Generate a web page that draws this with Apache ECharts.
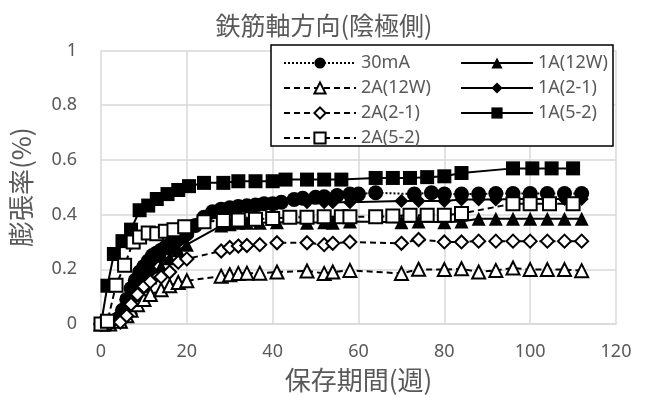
<!DOCTYPE html>
<html>
<head>
<meta charset="utf-8">
<script src="https://cdn.jsdelivr.net/npm/echarts@6/dist/echarts.min.js"></script>
<style>
  html, body { margin: 0; padding: 0; background: #fff; }
  #chart { width: 648px; height: 398px; }
</style>
</head>
<body>
<div id="chart"></div>
<script>
// Expansion ratio (%) along the rebar axis, cathode side, vs. storage period (weeks)

const xTicks = [0, 20, 40, 60, 80, 100, 120];
const yTicks = [0, 0.2, 0.4, 0.6, 0.8, 1];

// 30mA specimen (dense weekly readings)
const weeks30mA = [0, 2, 4, 5, 6, 7, 8, 9, 10, 11, 12, 13, 14, 15, 16, 17, 18, 19, 20, 22, 24, 26, 28, 30, 32, 34, 36, 38, 40, 42, 45, 47, 50, 52, 55, 58, 60, 64, 73, 77, 80, 84, 88, 92, 96, 100, 104, 108, 112];
const v30mA = [0, 0, 0.02, 0.05, 0.09, 0.13, 0.16, 0.19, 0.21, 0.23, 0.25, 0.26, 0.27, 0.28, 0.29, 0.30, 0.31, 0.32, 0.33, 0.36, 0.39, 0.41, 0.42, 0.425, 0.43, 0.432, 0.435, 0.44, 0.44, 0.445, 0.455, 0.46, 0.463, 0.465, 0.47, 0.475, 0.475, 0.48, 0.475, 0.48, 0.475, 0.475, 0.475, 0.477, 0.477, 0.477, 0.477, 0.477, 0.477];

// Reading schedule shared by the 12W and 2-1 specimens
const weeksA = [0, 2, 4.5, 6, 7, 8.5, 10, 11.5, 14, 16, 18, 20, 28, 30, 32, 34, 37, 41, 48, 52, 54, 58, 70, 74, 80, 84, 88, 92, 96, 100, 104, 108, 112];
const v1A12W = [0, 0, 0.01, 0.03, 0.06, 0.10, 0.14, 0.17, 0.21, 0.24, 0.27, 0.29, 0.36, 0.365, 0.37, 0.37, 0.37, 0.372, 0.37, 0.372, 0.37, 0.375, 0.372, 0.375, 0.372, 0.375, 0.385, 0.385, 0.385, 0.385, 0.385, 0.385, 0.385];
const v2A12W = [0, 0, 0.01, 0.03, 0.05, 0.07, 0.09, 0.108, 0.125, 0.14, 0.152, 0.158, 0.175, 0.18, 0.185, 0.186, 0.186, 0.19, 0.194, 0.185, 0.19, 0.196, 0.185, 0.2, 0.199, 0.202, 0.19, 0.196, 0.205, 0.199, 0.199, 0.199, 0.195];
const v1A21 = [0, 0, 0.02, 0.06, 0.10, 0.14, 0.18, 0.20, 0.24, 0.27, 0.30, 0.32, 0.41, 0.42, 0.425, 0.43, 0.435, 0.44, 0.445, 0.445, 0.445, 0.445, 0.45, 0.45, 0.45, 0.455, 0.455, 0.455, 0.457, 0.457, 0.457, 0.457, 0.457];
const v2A21 = [0, 0, 0.007, 0.03, 0.072, 0.108, 0.137, 0.155, 0.172, 0.19, 0.226, 0.238, 0.267, 0.28, 0.285, 0.287, 0.29, 0.297, 0.297, 0.29, 0.295, 0.30, 0.295, 0.309, 0.30, 0.30, 0.303, 0.303, 0.303, 0.303, 0.303, 0.303, 0.303];

// 5-2 specimens
const weeks1A52 = [0, 1.5, 3, 5, 7, 9, 11, 13, 15.5, 18, 20.5, 24, 28.5, 32, 36, 40, 43, 48, 52, 56, 64, 68, 72, 76, 80, 84, 96, 100.5, 105, 110];
const v1A52 = [0, 0.14, 0.256, 0.303, 0.345, 0.416, 0.433, 0.457, 0.475, 0.49, 0.504, 0.516, 0.516, 0.522, 0.522, 0.522, 0.528, 0.528, 0.528, 0.528, 0.534, 0.534, 0.534, 0.537, 0.54, 0.552, 0.569, 0.569, 0.569, 0.569];
const weeks2A52 = [0, 1.5, 3.5, 5.5, 7.5, 9, 11, 13, 15, 17, 19.5, 24, 28.5, 32, 36, 40, 44, 48, 52, 56, 58, 64, 68, 72, 76, 80, 84, 96, 100, 104.5, 110];
const v2A52 = [0, 0.01, 0.142, 0.215, 0.30, 0.318, 0.333, 0.33, 0.339, 0.345, 0.356, 0.374, 0.378, 0.38, 0.383, 0.386, 0.39, 0.39, 0.392, 0.392, 0.392, 0.392, 0.395, 0.398, 0.398, 0.398, 0.404, 0.44, 0.44, 0.44, 0.44];

const pairs = (xs, ys) => xs.map((x, i) => [x, ys[i]]);

const INK = '#000000';
const TEXT = '#595959';
const GRID = '#d9d9d9';
const LATIN = "'Noto Sans', 'Noto Sans CJK JP', sans-serif";
const CJK = "'Noto Sans CJK JP', 'Noto Sans', sans-serif";

const DASH = [6, 4];

function lineSeries(name, data, symbol, size, filled, dash) {
  return {
    name: name,
    type: 'line',
    data: data,
    symbol: symbol,
    symbolSize: size,
    showAllSymbol: true,
    itemStyle: filled
      ? { color: INK, borderColor: INK, borderWidth: 0 }
      : { color: '#ffffff', borderColor: INK, borderWidth: 2 },
    lineStyle: { color: INK, width: 2, type: dash },
    emphasis: { disabled: true }
  };
}

const series = [
  lineSeries('30mA', pairs(weeks30mA, v30mA), 'circle', 15, true, 'dotted'),
  lineSeries('1A(12W)', pairs(weeksA, v1A12W), 'triangle', 14, true, 'solid'),
  lineSeries('2A(12W)', pairs(weeksA, v2A12W), 'triangle', 13, false, DASH),
  lineSeries('1A(2-1)', pairs(weeksA, v1A21), 'diamond', 14, true, 'solid'),
  lineSeries('2A(2-1)', pairs(weeksA, v2A21), 'diamond', 13, false, DASH),
  lineSeries('1A(5-2)', pairs(weeks1A52, v1A52), 'rect', 14, true, 'solid'),
  lineSeries('2A(5-2)', pairs(weeks2A52, v2A52), 'rect', 13, false, DASH)
];

const legendCommon = {
  orient: 'vertical',
  padding: 0,
  itemWidth: 72,
  itemHeight: 14,
  itemGap: 3,
  top: 52,
  z: 10,
  selectedMode: false,
  textStyle: { color: TEXT, fontSize: 18, lineHeight: 22, fontFamily: LATIN }
};

const chart = echarts.init(document.getElementById('chart'), null, { renderer: 'canvas' });

chart.setOption({
  animation: false,
  backgroundColor: '#ffffff',
  title: {
    text: '鉄筋軸方向(陰極側)',
    left: 'center',
    top: 8,
    textStyle: { color: TEXT, fontSize: 25, fontWeight: 'normal', fontFamily: CJK }
  },
  grid: { left: 100, right: 32, top: 50.5, bottom: 66, containLabel: false },
  legend: [
    Object.assign({}, legendCommon, { left: 283, data: ['30mA', '2A(12W)', '2A(2-1)', '2A(5-2)'] }),
    Object.assign({}, legendCommon, { left: 460, data: ['1A(12W)', '1A(2-1)', '1A(5-2)'] })
  ],
  graphic: [{
    type: 'rect',
    z: 3,
    shape: { x: 271, y: 45, width: 342, height: 101 },
    style: { fill: '#ffffff', stroke: INK, lineWidth: 1.5 }
  }],
  xAxis: {
    type: 'value',
    min: xTicks[0],
    max: xTicks[xTicks.length - 1],
    interval: xTicks[1] - xTicks[0],
    name: '保存期間(週)',
    nameLocation: 'middle',
    nameGap: 43,
    nameTextStyle: { color: TEXT, fontSize: 26, fontFamily: CJK },
    axisLine: { show: true, lineStyle: { color: GRID, width: 1.5 } },
    axisTick: { show: false },
    axisLabel: { color: TEXT, fontSize: 18, fontFamily: LATIN, margin: 19 },
    splitLine: { show: true, lineStyle: { color: GRID, width: 1.5 } }
  },
  yAxis: {
    type: 'value',
    min: yTicks[0],
    max: yTicks[yTicks.length - 1],
    interval: yTicks[1] - yTicks[0],
    name: '膨張率(%)',
    nameLocation: 'middle',
    nameGap: 67,
    nameTextStyle: { color: TEXT, fontSize: 26, fontFamily: CJK },
    axisLine: { show: false },
    axisTick: { show: false },
    axisLabel: { color: TEXT, fontSize: 18, fontFamily: LATIN, margin: 24 },
    splitLine: { show: true, lineStyle: { color: GRID, width: 1.5 } }
  },
  series: series
});
</script>
</body>
</html>
